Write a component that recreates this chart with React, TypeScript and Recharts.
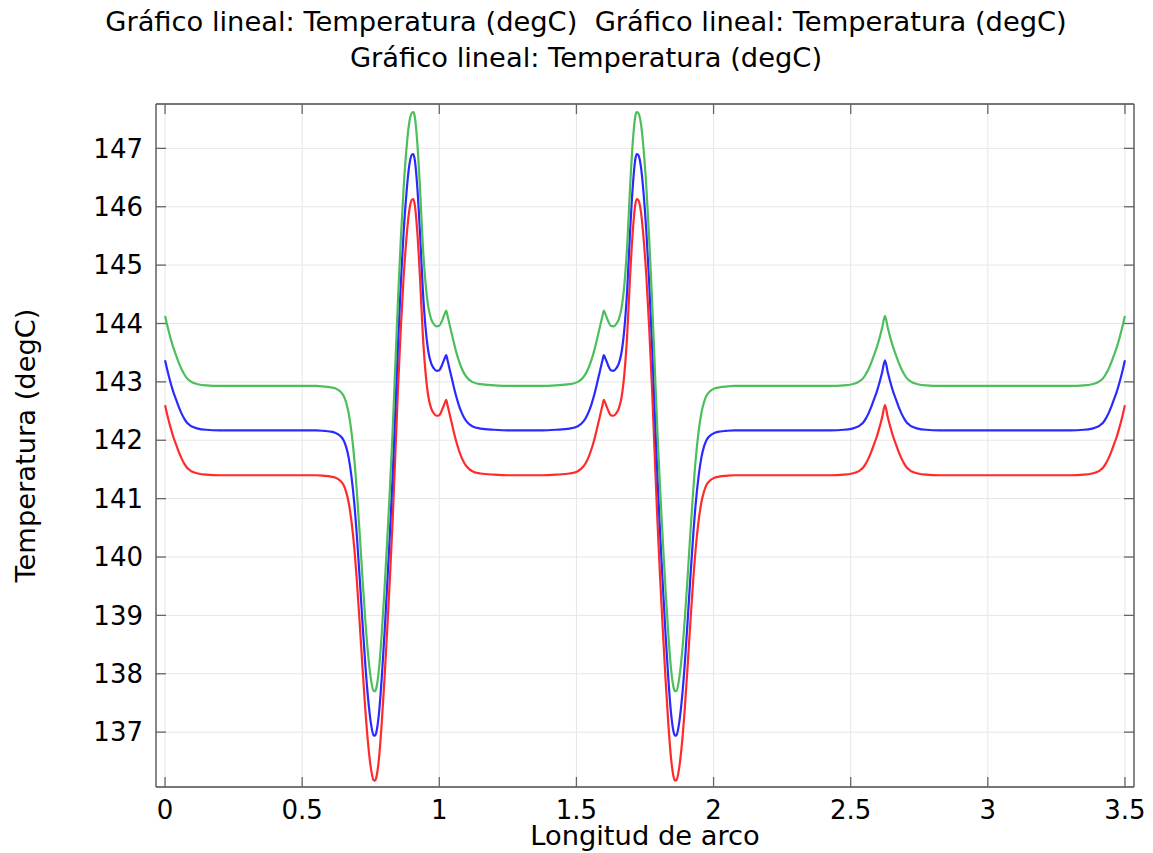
import React from "react";
import { LineChart, Line, XAxis, YAxis, CartesianGrid, Label } from "recharts";

// arc length samples (shared by all three curves)
const arcLength = [
  0.0, 0.01, 0.02, 0.03, 0.04, 0.05, 0.06, 0.07, 0.08, 0.09,
  0.1, 0.12, 0.15, 0.2, 0.3, 0.4, 0.5, 0.55, 0.58, 0.6,
  0.62, 0.64, 0.65, 0.66, 0.67, 0.68, 0.69, 0.7, 0.71, 0.72,
  0.73, 0.74, 0.75, 0.76, 0.765, 0.77, 0.78, 0.79, 0.8, 0.81,
  0.82, 0.83, 0.84, 0.85, 0.86, 0.87, 0.88, 0.89, 0.9, 0.905,
  0.91, 0.92, 0.93, 0.94, 0.95, 0.96, 0.97, 0.98, 0.99, 1.0,
  1.01, 1.02, 1.025, 1.03, 1.04, 1.05, 1.06, 1.07, 1.08, 1.09,
  1.1, 1.12, 1.15, 1.2, 1.25, 1.3, 1.375, 1.425, 1.475, 1.505,
  1.525, 1.535, 1.545, 1.555, 1.565, 1.575, 1.585, 1.595, 1.6, 1.605,
  1.615, 1.625, 1.635, 1.645, 1.655, 1.665, 1.675, 1.685, 1.695, 1.705,
  1.715, 1.72, 1.725, 1.735, 1.745, 1.755, 1.765, 1.775, 1.785, 1.795,
  1.805, 1.815, 1.825, 1.835, 1.845, 1.855, 1.86, 1.865, 1.875, 1.885,
  1.895, 1.905, 1.915, 1.925, 1.935, 1.945, 1.955, 1.965, 1.975, 1.985,
  2.005, 2.025, 2.045, 2.075, 2.2, 2.3, 2.425, 2.475, 2.505, 2.525,
  2.535, 2.545, 2.555, 2.565, 2.575, 2.585, 2.595, 2.605, 2.615, 2.625,
  2.635, 2.645, 2.655, 2.665, 2.675, 2.685, 2.695, 2.705, 2.715, 2.725,
  2.745, 2.775, 2.825, 2.9, 3.0, 3.1, 3.2, 3.3, 3.35, 3.38,
  3.4, 3.41, 3.42, 3.43, 3.44, 3.45, 3.46, 3.47, 3.48, 3.49,
  3.5,
];

const tempRed = [
  142.6, 142.4, 142.22, 142.06, 141.93, 141.8, 141.69, 141.6, 141.53, 141.49,
  141.46, 141.43, 141.41, 141.4, 141.4, 141.4, 141.4, 141.4, 141.39, 141.38,
  141.36, 141.3, 141.24, 141.12, 140.92, 140.6, 140.15, 139.55, 138.85, 138.1,
  137.4, 136.82, 136.4, 136.18, 136.17, 136.22, 136.55, 137.15, 137.9, 138.75,
  139.65, 140.65, 141.8, 142.95, 143.95, 144.8, 145.45, 145.92, 146.12, 146.13,
  146.05, 145.55, 144.75, 143.8, 143.15, 142.75, 142.55, 142.46, 142.42, 142.43,
  142.52, 142.64, 142.69, 142.6, 142.4, 142.2, 142.01, 141.85, 141.72, 141.62,
  141.55, 141.47, 141.43, 141.41, 141.4, 141.4, 141.4, 141.41, 141.43, 141.47,
  141.55, 141.62, 141.72, 141.85, 142.01, 142.2, 142.4, 142.6, 142.69, 142.64,
  142.52, 142.43, 142.42, 142.46, 142.55, 142.75, 143.15, 143.8, 144.75, 145.55,
  146.05, 146.13, 146.12, 145.92, 145.45, 144.8, 143.95, 142.95, 141.8, 140.65,
  139.65, 138.75, 137.9, 137.15, 136.55, 136.22, 136.17, 136.18, 136.4, 136.82,
  137.4, 138.1, 138.85, 139.55, 140.15, 140.6, 140.92, 141.12, 141.24, 141.3,
  141.36, 141.38, 141.39, 141.4, 141.4, 141.4, 141.4, 141.41, 141.43, 141.46,
  141.49, 141.53, 141.6, 141.69, 141.8, 141.93, 142.06, 142.22, 142.4, 142.6,
  142.4, 142.22, 142.06, 141.93, 141.8, 141.69, 141.6, 141.53, 141.49, 141.46,
  141.43, 141.41, 141.4, 141.4, 141.4, 141.4, 141.4, 141.4, 141.41, 141.43,
  141.46, 141.49, 141.53, 141.6, 141.69, 141.8, 141.93, 142.06, 142.22, 142.4,
  142.6,
];

const tempBlue = [
  143.37, 143.17, 142.99, 142.83, 142.7, 142.57, 142.46, 142.37, 142.3, 142.26,
  142.23, 142.2, 142.18, 142.17, 142.17, 142.17, 142.17, 142.17, 142.16, 142.15,
  142.13, 142.07, 142.01, 141.89, 141.69, 141.37, 140.92, 140.32, 139.62, 138.87,
  138.17, 137.59, 137.17, 136.95, 136.94, 136.99, 137.32, 137.92, 138.67, 139.52,
  140.42, 141.42, 142.57, 143.72, 144.72, 145.57, 146.22, 146.69, 146.89, 146.9,
  146.82, 146.32, 145.52, 144.57, 143.92, 143.52, 143.32, 143.23, 143.19, 143.2,
  143.29, 143.41, 143.46, 143.37, 143.17, 142.97, 142.78, 142.62, 142.49, 142.39,
  142.32, 142.24, 142.2, 142.18, 142.17, 142.17, 142.17, 142.18, 142.2, 142.24,
  142.32, 142.39, 142.49, 142.62, 142.78, 142.97, 143.17, 143.37, 143.46, 143.41,
  143.29, 143.2, 143.19, 143.23, 143.32, 143.52, 143.92, 144.57, 145.52, 146.32,
  146.82, 146.9, 146.89, 146.69, 146.22, 145.57, 144.72, 143.72, 142.57, 141.42,
  140.42, 139.52, 138.67, 137.92, 137.32, 136.99, 136.94, 136.95, 137.17, 137.59,
  138.17, 138.87, 139.62, 140.32, 140.92, 141.37, 141.69, 141.89, 142.01, 142.07,
  142.13, 142.15, 142.16, 142.17, 142.17, 142.17, 142.17, 142.18, 142.2, 142.23,
  142.26, 142.3, 142.37, 142.46, 142.57, 142.7, 142.83, 142.99, 143.17, 143.37,
  143.17, 142.99, 142.83, 142.7, 142.57, 142.46, 142.37, 142.3, 142.26, 142.23,
  142.2, 142.18, 142.17, 142.17, 142.17, 142.17, 142.17, 142.17, 142.18, 142.2,
  142.23, 142.26, 142.3, 142.37, 142.46, 142.57, 142.7, 142.83, 142.99, 143.17,
  143.37,
];

const tempGreen = [
  144.13, 143.93, 143.75, 143.59, 143.46, 143.33, 143.22, 143.13, 143.06, 143.02,
  142.99, 142.96, 142.94, 142.93, 142.93, 142.93, 142.93, 142.93, 142.92, 142.91,
  142.89, 142.83, 142.77, 142.65, 142.45, 142.13, 141.68, 141.08, 140.38, 139.63,
  138.93, 138.35, 137.93, 137.71, 137.7, 137.75, 138.08, 138.68, 139.43, 140.28,
  141.18, 142.18, 143.33, 144.48, 145.48, 146.33, 146.98, 147.43, 147.61, 147.62,
  147.56, 147.08, 146.28, 145.33, 144.68, 144.28, 144.08, 143.99, 143.95, 143.96,
  144.05, 144.17, 144.22, 144.13, 143.93, 143.73, 143.54, 143.38, 143.25, 143.15,
  143.08, 143.0, 142.96, 142.94, 142.93, 142.93, 142.93, 142.94, 142.96, 143.0,
  143.08, 143.15, 143.25, 143.38, 143.54, 143.73, 143.93, 144.13, 144.22, 144.17,
  144.05, 143.96, 143.95, 143.99, 144.08, 144.28, 144.68, 145.33, 146.28, 147.08,
  147.56, 147.62, 147.61, 147.43, 146.98, 146.33, 145.48, 144.48, 143.33, 142.18,
  141.18, 140.28, 139.43, 138.68, 138.08, 137.75, 137.7, 137.71, 137.93, 138.35,
  138.93, 139.63, 140.38, 141.08, 141.68, 142.13, 142.45, 142.65, 142.77, 142.83,
  142.89, 142.91, 142.92, 142.93, 142.93, 142.93, 142.93, 142.94, 142.96, 142.99,
  143.02, 143.06, 143.13, 143.22, 143.33, 143.46, 143.59, 143.75, 143.93, 144.13,
  143.93, 143.75, 143.59, 143.46, 143.33, 143.22, 143.13, 143.06, 143.02, 142.99,
  142.96, 142.94, 142.93, 142.93, 142.93, 142.93, 142.93, 142.93, 142.94, 142.96,
  142.99, 143.02, 143.06, 143.13, 143.22, 143.33, 143.46, 143.59, 143.75, 143.93,
  144.13,
];

const xTicks = [0, 0.5, 1, 1.5, 2, 2.5, 3, 3.5];
const yTicks = [137, 138, 139, 140, 141, 142, 143, 144, 145, 146, 147];

const titleLines = [
  "Gráfico lineal: Temperatura (degC)  Gráfico lineal: Temperatura (degC)",
  "Gráfico lineal: Temperatura (degC)",
];

const data = arcLength.map((x, i) => ({
  x,
  red: tempRed[i],
  blue: tempBlue[i],
  green: tempGreen[i],
}));

const FONT = "'DejaVu Sans', sans-serif";
const xDomain = [-0.033, 3.533];
const yDomain = [136.06, 147.76];
const axisStyle = { stroke: "#4d4d4d", strokeWidth: 1.3 };
const tickLineStyle = { stroke: "#666", strokeWidth: 1.3 };
const tickText = { fill: "#000", fontSize: 26, fontFamily: FONT };
const labelText = { fontSize: 27.3, fill: "#000", fontFamily: FONT };
const empty = () => "";

export default function App() {
  return (
    <div
      style={{
        position: "absolute",
        left: 0,
        top: 0,
        width: 1153,
        height: 853,
        background: "#fff",
        fontFamily: FONT,
      }}
    >
      {titleLines.map((t, i) => (
        <div
          key={i}
          style={{
            position: "absolute",
            left: 0,
            width: 1172,
            top: 6 + i * 36,
            textAlign: "center",
            fontSize: 27.3,
            lineHeight: "32px",
            whiteSpace: "pre",
            color: "#000",
          }}
        >
          {t}
        </div>
      ))}
      <LineChart
        width={1153}
        height={853}
        data={data}
        margin={{ top: 103, right: 18, bottom: 0, left: 0 }}
      >
        <CartesianGrid
          xAxisId="bottom"
          yAxisId="left"
          stroke="#e6e6e6"
          strokeWidth={1}
        />
        <XAxis
          xAxisId="bottom"
          dataKey="x"
          type="number"
          domain={xDomain}
          ticks={xTicks}
          allowDataOverflow
          height={66}
          tickSize={-10}
          tickMargin={24}
          tick={tickText}
          tickLine={tickLineStyle}
          axisLine={axisStyle}
        >
          <Label
            value="Longitud de arco"
            position="insideBottom"
            offset={8}
            style={labelText}
          />
        </XAxis>
        <XAxis
          xAxisId="top"
          orientation="top"
          dataKey="x"
          type="number"
          domain={xDomain}
          ticks={xTicks}
          allowDataOverflow
          height={1}
          tickSize={-10}
          tickFormatter={empty}
          tickLine={tickLineStyle}
          axisLine={axisStyle}
        />
        <YAxis
          yAxisId="left"
          type="number"
          domain={yDomain}
          ticks={yTicks}
          allowDataOverflow
          width={156}
          tickSize={-10}
          tickMargin={23}
          tick={tickText}
          tickLine={tickLineStyle}
          axisLine={axisStyle}
        >
          <Label
            value="Temperatura (degC)"
            angle={-90}
            position="insideLeft"
            offset={25}
            style={{ ...labelText, textAnchor: "middle" }}
          />
        </YAxis>
        <YAxis
          yAxisId="right"
          orientation="right"
          type="number"
          domain={yDomain}
          ticks={yTicks}
          allowDataOverflow
          width={1}
          tickSize={-10}
          tickFormatter={empty}
          tickLine={tickLineStyle}
          axisLine={axisStyle}
        />
        <Line
          xAxisId="bottom"
          yAxisId="left"
          type="monotone"
          dataKey="red"
          stroke="#ff2a2a"
          strokeWidth={2.2}
          dot={false}
          isAnimationActive={false}
        />
        <Line
          xAxisId="bottom"
          yAxisId="left"
          type="monotone"
          dataKey="blue"
          stroke="#2a2aff"
          strokeWidth={2.2}
          dot={false}
          isAnimationActive={false}
        />
        <Line
          xAxisId="bottom"
          yAxisId="left"
          type="monotone"
          dataKey="green"
          stroke="#4cbf5a"
          strokeWidth={2.2}
          dot={false}
          isAnimationActive={false}
        />
      </LineChart>
    </div>
  );
}
